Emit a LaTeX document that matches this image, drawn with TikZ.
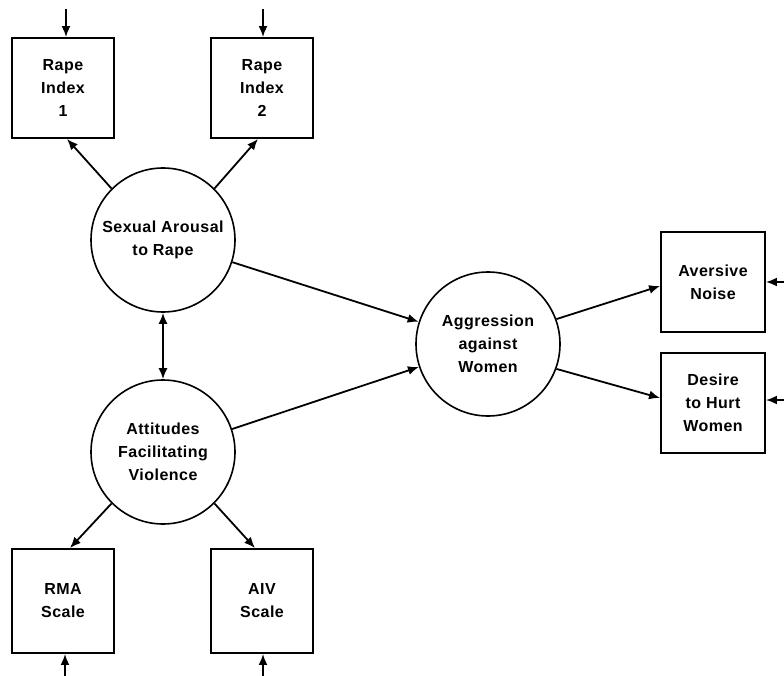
\documentclass[tikz,border=0pt]{standalone}
\usepackage{fontspec}
\setmainfont[LetterSpace=3]{Liberation Sans}
\usetikzlibrary{arrows.meta}
\begin{document}
\begin{tikzpicture}[x=1pt,y=-1pt,
  every node/.style={font=\fontsize{16}{23}\selectfont\bfseries, align=center, line width=1.9pt},
  obsbox/.style={draw, rectangle, minimum width=102pt, minimum height=100pt, inner sep=0pt},
  latent/.style={draw, circle, minimum size=144pt, inner sep=0pt, line width=1.6pt},
  tip/.tip={Latex[length=11pt,width=9pt]},
  arr/.style={line width=1.8pt, -tip},
  darr/.style={line width=1.8pt, tip-tip}]
\useasboundingbox (0,0) rectangle (784,676);
\node[obsbox] (ri1) at (63,88) {Rape\\Index\\1};
\node[obsbox] (ri2) at (262,88) {Rape\\Index\\2};
\node[latent] (sa) at (163,240) {Sexual Arousal\\to Rape};
\node[latent] (att) at (163,452) {Attitudes\\Facilitating\\Violence};
\node[latent] (agg) at (488,344) {Aggression\\against\\Women};
\node[obsbox, minimum width=104pt] (av) at (713,282) {Aversive\\Noise};
\node[obsbox, minimum width=104pt] (dh) at (713,403) {Desire\\to Hurt\\Women};
\node[obsbox, minimum height=104pt] (rma) at (63,601) {RMA\\Scale};
\node[obsbox, minimum height=104pt] (aiv) at (262,601) {AIV\\Scale};
\coordinate (t1) at (66,9);
\coordinate (t2) at (263,9);
\coordinate (b1) at (65,676);
\coordinate (b2) at (263,676);
\coordinate (r1) at (784,282);
\coordinate (r2) at (784,400);
\draw[arr] (t1) -- (t1 |- ri1.north);
\draw[arr] (t2) -- (t2 |- ri2.north);
\draw[arr] (b1) -- (b1 |- rma.south);
\draw[arr] (b2) -- (b2 |- aiv.south);
\draw[arr] (r1) -- (r1 -| av.east);
\draw[arr] (r2) -- (r2 -| dh.east);
\draw[arr] (sa.135) -- ([xshift=4pt]ri1.south);
\draw[arr] (sa.45) -- ([xshift=-4pt]ri2.south);
\draw[arr] (att.225) -- ([xshift=7pt]rma.north);
\draw[arr] (att.-45) -- ([xshift=-7pt]aiv.north);
\draw[darr] (sa) -- (att);
\draw[arr] (sa) -- (agg);
\draw[arr] (att) -- (agg);
\draw[arr] (agg.20) -- ([yshift=-4pt]av.west);
\draw[arr] (agg.-20) -- ([yshift=5pt]dh.west);
\end{tikzpicture}
\end{document}
